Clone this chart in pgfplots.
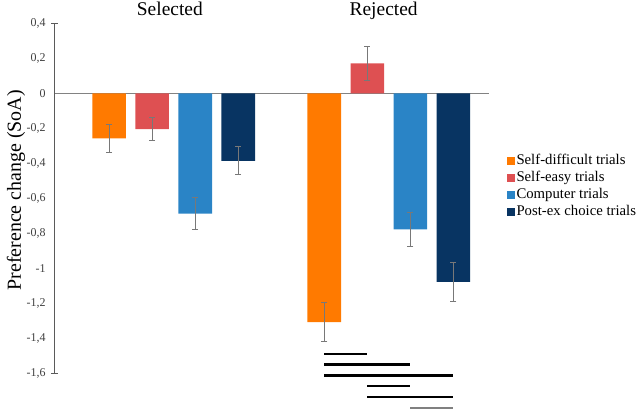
\documentclass[border=0pt]{standalone}
\usepackage{fontspec}
\setmainfont{Liberation Serif}
\usepackage{pgfplots}
\pgfplotsset{compat=1.18}
\definecolor{cOr}{RGB}{255,122,0}
\definecolor{cRd}{RGB}{222,80,82}
\definecolor{cBl}{RGB}{42,132,198}
\definecolor{cNv}{RGB}{8,52,98}
\definecolor{errg}{RGB}{120,120,120}
\definecolor{axg}{RGB}{90,90,90}
\definecolor{zerog}{RGB}{130,130,130}
\definecolor{tickg}{RGB}{64,64,64}
\pgfplotsset{
  error bars/error bar style={errg, line width=0.8bp},
  error bars/error mark options={errg, rotate=90, mark size=3bp, line width=0.8bp},
}
\begin{document}
\begin{tikzpicture}
\begin{axis}[
  scale only axis, width=434bp, height=350bp,
  xmin=-1.26, xmax=8.83, ymin=-1.6, ymax=0.4,
  axis y line=left, axis x line=middle,
  y axis line style={-, axg, line width=1bp},
  x axis line style={-, zerog, line width=1bp},
  xtick=\empty,
  ytick={-1.6,-1.4,-1.2,-1,-0.8,-0.6,-0.4,-0.2,0,0.2,0.4},
  yticklabels={{-1,6},{-1,4},{-1,2},{-1},{-0,8},{-0,6},{-0,4},{-0,2},{0},{0,2},{0,4}},
  major tick length=0pt,
  yticklabel style={font=\fontsize{12}{12}\selectfont, text=tickg, xshift=-6bp},
  extra y ticks={-1.6,0.4}, extra y tick labels={},
  extra y tick style={major tick length=7bp, tick align=center, tick style={axg, line width=1bp}},
  every axis y label/.style={at={(axis description cs:-0.09,0.523)}, rotate=90, anchor=center, font=\fontsize{20}{20}\selectfont},
  ylabel={Preference change (SoA)},
  clip=false,
  legend style={at={(axis description cs:1.041,0.63)}, anchor=north west, draw=none, fill=none,
    inner sep=0pt, font=\fontsize{14.8}{14.8}\selectfont,
    nodes={text height=10.5bp, text depth=3bp, inner sep=1.5bp}, row sep=0.5bp},
  legend cell align=left,
  legend image code/.code={\draw[#1,draw=none] (0bp,-4bp) rectangle (8bp,4bp);},
]
\addplot[ybar, bar width=0.78, bar shift=0pt, fill=cOr, draw=none,
  error bars/y dir=both, error bars/y explicit]
  coordinates {(0,-0.257) +- (0,0.078) (5,-1.307) +- (0,0.111)};
\addlegendentry{Self-difficult trials}
\addplot[ybar, bar width=0.78, bar shift=0pt, fill=cRd, draw=none,
  error bars/y dir=both, error bars/y explicit]
  coordinates {(1,-0.205) +- (0,0.066) (6,0.171) +- (0,0.097)};
\addlegendentry{Self-easy trials}
\addplot[ybar, bar width=0.78, bar shift=0pt, fill=cBl, draw=none,
  error bars/y dir=both, error bars/y explicit]
  coordinates {(2,-0.688) +- (0,0.091) (7,-0.777) +- (0,0.099)};
\addlegendentry{Computer trials}
\addplot[ybar, bar width=0.78, bar shift=0pt, fill=cNv, draw=none,
  error bars/y dir=both, error bars/y explicit]
  coordinates {(3,-0.386) +- (0,0.080) (8,-1.078) +- (0,0.109)};
\addlegendentry{Post-ex choice trials}
% significance lines
\addplot[black, line width=2.7bp, forget plot] coordinates {(5,-1.490) (6,-1.490)};
\addplot[black, line width=2.7bp, forget plot] coordinates {(5,-1.551) (7,-1.551)};
\addplot[black, line width=2.7bp, forget plot] coordinates {(5,-1.614) (8,-1.614)};
\addplot[black, line width=2.7bp, forget plot] coordinates {(6,-1.673) (7,-1.673)};
\addplot[black, line width=2.7bp, forget plot] coordinates {(6,-1.735) (8,-1.735)};
\addplot[gray, line width=2.7bp, forget plot] coordinates {(7,-1.798) (8,-1.798)};
\node[anchor=base, font=\fontsize{19.5}{19.5}\selectfont] at (axis cs:1.41,0.447) {Selected};
\node[anchor=base, font=\fontsize{19.5}{19.5}\selectfont] at (axis cs:6.38,0.447) {Rejected};
\end{axis}
\pgfresetboundingbox
\path[use as bounding box] (-55bp,-38.7bp) rectangle (585bp,373.3bp);
\end{tikzpicture}
\end{document}
